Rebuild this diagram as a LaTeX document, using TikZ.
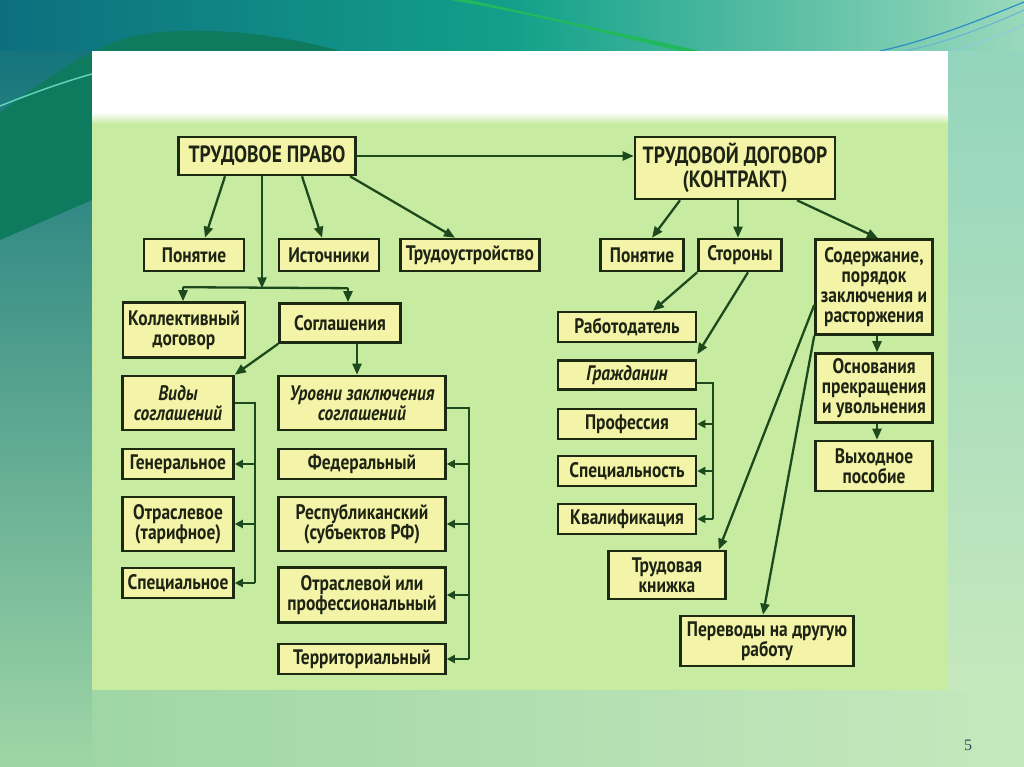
\documentclass[tikz,border=0pt]{standalone}
\usepackage{fontspec}
\setmainfont{PT Sans}[FakeStretch=0.83]
\newfontfamily\numfont{Liberation Serif}
\usetikzlibrary{arrows.meta,calc}
\definecolor{boxfill}{HTML}{F4F4A8}
\definecolor{boxline}{HTML}{1C2A12}
\definecolor{arrcol}{HTML}{1D4A1D}
\definecolor{panel}{HTML}{C8EBA2}
\definecolor{bgL}{HTML}{3AA574}
\definecolor{bgR}{HTML}{C6E8BD}
\definecolor{colTop}{HTML}{0B6E78}
\definecolor{colMid}{HTML}{178A5C}
\definecolor{colBot}{HTML}{9FD6A6}
\definecolor{rTop}{HTML}{8FD3BD}
\definecolor{topL}{HTML}{0D6F7E}
\definecolor{topM}{HTML}{12A08A}
\definecolor{topR}{HTML}{9AD9BC}
\definecolor{wave}{HTML}{0E7A5E}
\definecolor{waveline}{HTML}{5FD3B8}
\definecolor{swoosh}{HTML}{22B85E}
\definecolor{blueline}{HTML}{2A8FC8}
\definecolor{numcol}{HTML}{2A4A5A}
\definecolor{txt}{HTML}{1E2414}
\tikzset{
  box/.style={draw=boxline, fill=boxfill, line width=2.6pt, inner sep=0pt, align=center,
    font=\fontsize{21}{20}\selectfont\bfseries, text=txt},
  itbox/.style={box, font=\fontsize{21}{20}\selectfont\bfseries\itshape},
  wh/.style 2 args={minimum width=#1pt, minimum height=#2pt},
  titlebox/.style={box, font=\fontsize{23.5}{24}\selectfont\bfseries},
  ln/.style={draw=arrcol, line width=2.3pt},
  arr/.style={ln, -{Triangle[length=11pt,width=9pt]}},
  sarr/.style={ln, -{Triangle[length=8pt,width=8pt]}},
}
\begin{document}
\begin{tikzpicture}[x=1pt,y=-1pt]
\useasboundingbox (0,0) rectangle (1024,767);
% ---------- slide background ----------
\shade[left color=bgL, right color=bgR] (0,0) rectangle (1024,767);
\shade[top color=colTop, middle color=colMid, bottom color=colBot] (0,0) rectangle (92,767);
\shade[left color=colBot, right color=bgR] (92,690) rectangle (1024,767);
\shade[top color=rTop, bottom color=bgR] (948,0) rectangle (1024,690);
\shade[left color=topL, right color=topR, middle color=topM] (0,0) rectangle (1024,51);
\fill[wave] (0,112) .. controls (60,70) and (100,40) .. (150,33)
  .. controls (230,25) and (300,40) .. (340,51) -- (92,51) -- (92,200) -- (0,240) -- cycle;
\draw[line width=1.5pt, waveline] (0,106) .. controls (40,90) and (70,80) .. (92,74);
\fill[swoosh] (470,0) .. controls (560,20) and (630,35) .. (700,51) -- (680,51)
  .. controls (610,35) and (540,15) .. (450,0) -- cycle;
\draw[blueline, line width=1.2pt] (1024,2) .. controls (980,20) and (930,40) .. (880,51);
\draw[blueline!70!white, line width=1pt] (1024,10) .. controls (985,28) and (940,44) .. (905,51);
\draw[blueline!50!white, line width=1pt] (1024,25) .. controls (995,38) and (970,46) .. (948,52);
% ---------- panel ----------
\fill[white] (92,51) rectangle (948,118);
\shade[top color=white, bottom color=panel] (92,112) rectangle (948,124);
\fill[panel] (92,124) rectangle (948,690);
\node[font=\numfont\fontsize{16}{16}\selectfont, text=numcol] (num) at (968,745) {5};
% ---------- left tree ----------
\node[titlebox, wh={177}{38}] (tp) at (267,156) {ТРУДОВОЕ ПРАВО};
\node[box, wh={100}{32}] (pon1) at (194,255) {Понятие};
\node[box, wh={100}{32}] (ist) at (329,255) {Источники};
\node[box, wh={139}{32}] (trud) at (470,255) {Трудоустройство};
\node[box, wh={122}{55}] (kol) at (184,330) {Коллективный\\договор};
\node[box, wh={121}{39}] (sogl) at (340,323) {Соглашения};
\node[itbox, wh={111}{54}] (vidy) at (178,403) {Виды\\соглашений};
\node[itbox, wh={167}{54}] (urov) at (362,403) {Уровни заключения\\соглашений};
\node[box, wh={111}{30}] (gen) at (178,464) {Генеральное};
\node[box, wh={111}{54}] (otr) at (178,524) {Отраслевое\\(тарифное)};
\node[box, wh={111}{30}] (spec) at (178,583) {Специальное};
\node[box, wh={167}{30}] (fed) at (362,464) {Федеральный};
\node[box, wh={167}{54}] (resp) at (362,524) {Республиканский\\(субъектов РФ)};
\node[box, wh={167}{55}] (otr2) at (362,595) {Отраслевой или\\профессиональный};
\node[box, wh={167}{30}] (terr) at (362,659) {Территориальный};
% ---------- right tree ----------
\node[titlebox, wh={200}{62}] (td) at (735,168) {ТРУДОВОЙ ДОГОВОР\\(КОНТРАКТ)};
\node[box, wh={83}{32}] (pon2) at (642,255) {Понятие};
\node[box, wh={83}{32}] (stor) at (740,255) {Стороны};
\node[box, wh={117}{95}] (sod) at (874,287) {Содержание,\\порядок\\заключения и\\расторжения};
\node[box, wh={138}{30}] (rab) at (627,327) {Работодатель};
\node[itbox, wh={138}{29}] (grazh) at (627,375) {Гражданин};
\node[box, wh={138}{30}] (prof) at (627,424) {Профессия};
\node[box, wh={138}{30}] (spec2) at (627,471) {Специальность};
\node[box, wh={138}{30}] (kval) at (627,519) {Квалификация};
\node[box, wh={117}{48}] (knizh) at (667,575) {Трудовая\\книжка};
\node[box, wh={173}{50}] (perev) at (767,641) {Переводы на другую\\работу};
\node[box, wh={117}{69}] (osn) at (874,388) {Основания\\прекращения\\и увольнения};
\node[box, wh={117}{50}] (vyh) at (874,466) {Выходное\\пособие};
% ---------- connectors left ----------
\draw[arr] (tp.east) -- (tp.east -| td.west);
\draw[arr] ([xshift=-42pt]tp.south) -- ([xshift=11pt]pon1.north);
\draw[arr] ([xshift=35pt]tp.south) -- ([xshift=-7pt]ist.north);
\draw[arr] ([xshift=83pt]tp.south) -- ([xshift=-15pt]trud.north);
\coordinate (j1) at ($(tp.south)+(-5,112)$);
\draw[arr] ([xshift=-5pt]tp.south) -- (j1);
\coordinate (jl) at ($(kol.north)+(-1,-14)$);
\coordinate (jr) at ($(sogl.north)+(8,-14)$);
\draw[ln] (jl) -- (jr);
\draw[arr] (jl) -- (jl |- kol.north);
\draw[arr] (jr) -- (jr |- sogl.north);
\draw[arr] (sogl.south west) -- (vidy.north east);
\draw[arr] ([xshift=17pt]sogl.south) -- ([xshift=17pt]sogl.south |- urov.north);
\coordinate (vb) at ($(vidy.east)+(20,0)$);
\draw[ln] (vidy.east) -- (vb) -- (vb |- spec.east);
\draw[sarr] (vb |- gen.east) -- (gen.east);
\draw[sarr] (vb |- otr.east) -- (otr.east);
\draw[sarr] (vb |- spec.east) -- (spec.east);
\coordinate (ub) at ($(urov.east)+(22,5)$);
\draw[ln] ([yshift=-5pt]urov.east) -- (ub) -- (ub |- terr.east);
\draw[sarr] (ub |- fed.east) -- (fed.east);
\draw[sarr] (ub |- resp.east) -- (resp.east);
\draw[sarr] (ub |- otr2.east) -- (otr2.east);
\draw[sarr] (ub |- terr.east) -- (terr.east);
% ---------- connectors right ----------
\draw[arr] ([xshift=-55pt]td.south) -- ([xshift=10pt]pon2.north);
\draw[arr] ([xshift=3pt]td.south) -- ([xshift=3pt]td.south |- stor.north);
\draw[arr] ([xshift=62pt]td.south) -- ([xshift=4pt]sod.north);
\draw[arr] (stor.south west) -- ([xshift=26pt]rab.north);
\draw[arr] ([xshift=8pt]stor.south) -- ([yshift=5pt]grazh.north east);
\coordinate (gb) at ($(grazh.east)+(16,8)$);
\draw[ln] ([yshift=-8pt]grazh.east) -- (gb) -- (gb |- kval.east);
\draw[sarr] (gb |- prof.east) -- (prof.east);
\draw[sarr] (gb |- spec2.east) -- (spec2.east);
\draw[sarr] (gb |- kval.east) -- (kval.east);
\draw[arr] ([xshift=3pt]sod.south) -- ([xshift=3pt]osn.north);
\draw[arr] ([xshift=3pt]osn.south) -- ([xshift=3pt]vyh.north);
\draw[arr] ([yshift=-18pt]sod.west) -- ([xshift=-8pt]knizh.north east);
\draw[arr] (sod.south west) -- ([xshift=-4pt]perev.north);
\end{tikzpicture}
\end{document}
